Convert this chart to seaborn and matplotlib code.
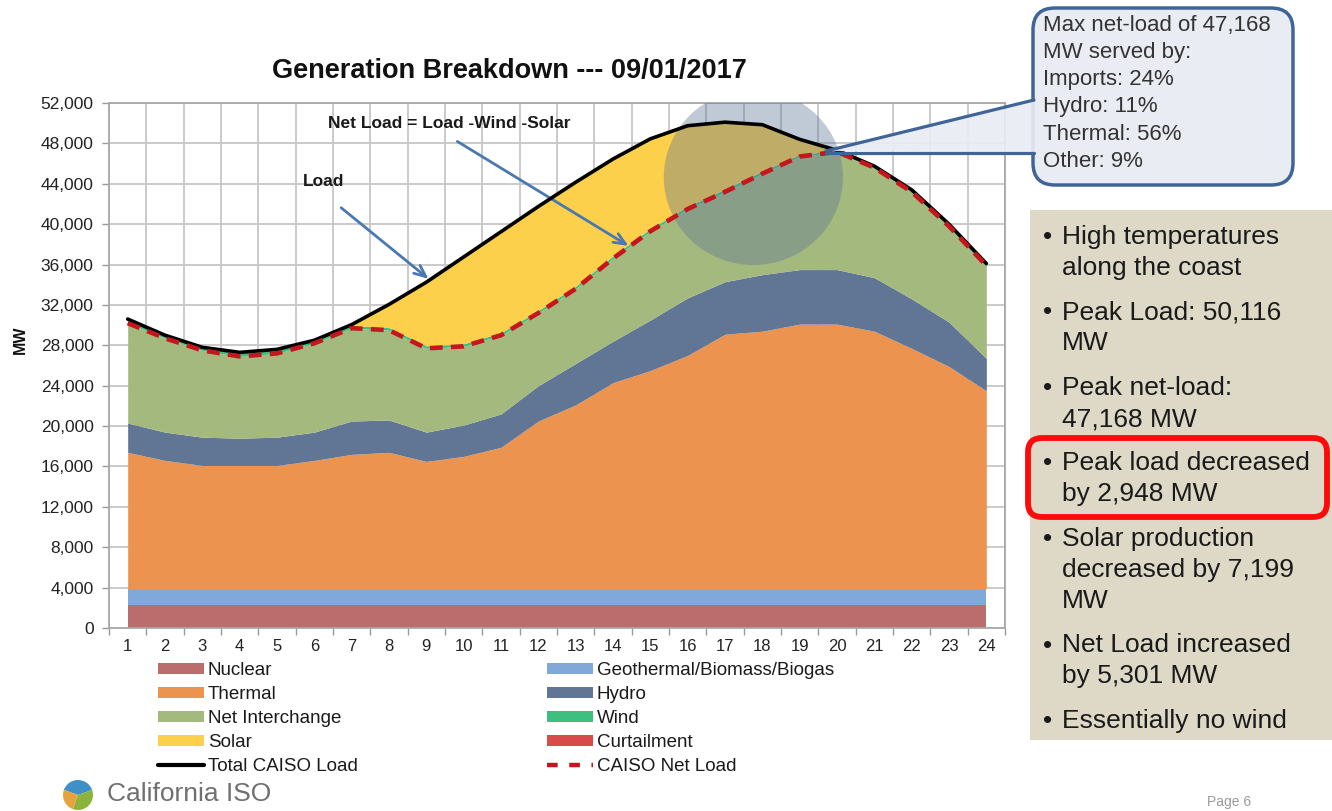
import pandas as pd
import seaborn as sns
import matplotlib.pyplot as plt
from matplotlib.lines import Line2D
from matplotlib.patches import Patch, Ellipse, FancyBboxPatch, Polygon, Rectangle, Wedge
from matplotlib.ticker import FuncFormatter, MultipleLocator
from matplotlib.transforms import IdentityTransform

# hourly values (MW) for 09/01/2017
hours = list(range(1, 25))
nuclear = [2250, 2250, 2250, 2250, 2250, 2250, 2250, 2250, 2250, 2250, 2250, 2250,
           2250, 2250, 2250, 2250, 2250, 2250, 2250, 2250, 2250, 2250, 2250, 2250]
geothermal = [1650, 1650, 1650, 1650, 1650, 1650, 1650, 1650, 1650, 1650, 1650, 1650,
              1650, 1650, 1650, 1650, 1650, 1650, 1650, 1650, 1650, 1650, 1650, 1650]
thermal = [13500, 12700, 12200, 12200, 12200, 12700, 13300, 13500, 12600, 13100, 14000, 16600,
           18200, 20400, 21600, 23100, 25200, 25500, 26200, 26200, 25500, 23800, 22000, 19600]
hydro = [2900, 2800, 2800, 2700, 2800, 2800, 3300, 3200, 2900, 3100, 3300, 3500,
         4100, 4100, 5000, 5700, 5200, 5600, 5400, 5400, 5300, 4900, 4400, 3200]
net_interchange = [9900, 9300, 8600, 8100, 8300, 8800, 9200, 8900, 8300, 7800, 7800, 7200,
                   7400, 8200, 8800, 8800, 8900, 10000, 11200, 11668, 10900, 10600, 9500, 9200]
wind = [400, 300, 300, 400, 400, 300, 250, 250, 250, 250, 250, 250,
        250, 250, 250, 250, 250, 250, 200, 150, 150, 200, 200, 200]
solar = [0, 0, 0, 0, 0, 0, 100, 2300, 6300, 8600, 10000, 10300,
         10300, 9600, 8900, 8000, 6650, 4600, 1500, 0, 0, 0, 0, 0]
curtailment = [0, 0, 0, 0, 0, 0, 0, 0, 0, 0, 0, 0,
               0, 0, 0, 0, 0, 0, 0, 0, 0, 0, 0, 0]
total_load = [30600, 29000, 27800, 27300, 27600, 28500, 30050, 32050, 34250, 36750, 39250, 41750,
              44150, 46450, 48450, 49750, 50100, 49850, 48400, 47318, 45750, 43400, 40000, 36100]
net_load = [30200, 28700, 27500, 26900, 27200, 28200, 29700, 29500, 27700, 27900, 29000, 31200,
            33600, 36600, 39300, 41500, 43200, 45000, 46700, 47168, 45600, 43200, 39800, 35900]

series_names = ["Nuclear", "Geothermal/Biomass/Biogas", "Thermal", "Hydro",
                "Net Interchange", "Wind", "Solar", "Curtailment"]
series_colors = ["#bb6d6d", "#80a8d8", "#ec944f", "#617594",
                 "#a4b97d", "#3dbf80", "#fdd04b", "#d94a4a"]

callout_lines = ["Max net-load of 47,168", "MW served by:", "Imports: 24%",
                 "Hydro: 11%", "Thermal: 56%", "Other: 9%"]
bullets = [["High temperatures", "along the coast"],
           ["Peak Load: 50,116", "MW"],
           ["Peak net-load:", "47,168 MW"],
           ["Peak load decreased", "by 2,948 MW"],
           ["Solar production", "decreased by 7,199", "MW"],
           ["Net Load increased", "by 5,301 MW"],
           ["Essentially no wind"]]

W, H = 1332, 811

sns.set_theme(style="white")
plt.rcParams['font.family'] = ['Liberation Sans', 'DejaVu Sans']


def fx(x):
    return x / W


def fy(y):
    return 1 - y / H


fig = plt.figure(figsize=(W / 100, H / 100), dpi=100)
fig.patch.set_facecolor("white")
ax = fig.add_axes([fx(109), fy(628), (1005 - 109) / W, (628 - 103) / H])

# stacked generation areas
ax.stackplot(hours, nuclear, geothermal, thermal, hydro, net_interchange, wind, solar, curtailment,
             colors=series_colors, linewidth=0, zorder=2)

# highlight circle around the evening peak
ax.add_patch(Ellipse((17.76, 44650), 4.8, 17400, facecolor="#5b7497", alpha=0.38,
                     edgecolor="none", zorder=3))

df = pd.DataFrame({"hour": hours, "load": total_load, "net": net_load})
sns.lineplot(data=df, x="hour", y="load", color="black", linewidth=2.6, ax=ax, zorder=4)
sns.lineplot(data=df, x="hour", y="net", color="#c4161c", linewidth=3.3,
             linestyle=(0, (2.8, 1.8)), ax=ax, zorder=5)

ax.set_xlim(0.5, 24.5)
ax.set_ylim(0, 52000)
ax.set_xticks(hours)
ax.xaxis.set_minor_locator(MultipleLocator(1, offset=0.5))
ax.yaxis.set_major_locator(MultipleLocator(4000))
ax.yaxis.set_major_formatter(FuncFormatter(lambda v, p: f"{int(v):,}"))
ax.grid(True, which="major", axis="y", color="#c6c6c6", linewidth=1.3, zorder=0)
ax.grid(True, which="minor", axis="x", color="#c6c6c6", linewidth=1.3, zorder=0)
ax.set_axisbelow(True)
ax.tick_params(axis="x", which="major", length=0, pad=8, labelsize=12, labelcolor="#222222")
ax.tick_params(axis="x", which="minor", length=5, width=1, color="#9a9a9a", bottom=True)
ax.tick_params(axis="y", length=5, width=1, color="#9a9a9a", left=True, pad=6,
               labelsize=12.5, labelcolor="#222222")
for side, sp in ax.spines.items():
    sp.set_color("#a8a8a8")
    sp.set_linewidth(1.3)
ax.set_xlabel("")
ax.set_ylabel("MW", fontsize=11.5, fontweight="bold", color="#111111")
ax.yaxis.set_label_coords(-0.09, (628 - 340) / (628 - 103))

# annotations inside the chart
fig.text(fx(303), fy(182), "Load", fontsize=12.5, fontweight="bold", va="center", color="#1a1a1a")
ax.annotate("", xy=(9.12, 34400), xycoords="data", xytext=(339, H - 206), textcoords="figure pixels",
            arrowprops=dict(arrowstyle="->,head_length=0.7,head_width=0.3", color="#4a78b0", lw=2))
fig.text(fx(328), fy(124), "Net Load = Load -Wind -Solar", fontsize=12.5, fontweight="bold",
         va="center", color="#1a1a1a")
ax.annotate("", xy=(14.48, 37700), xycoords="data", xytext=(455, H - 140), textcoords="figure pixels",
            arrowprops=dict(arrowstyle="->,head_length=0.7,head_width=0.3", color="#4a78b0", lw=2))

fig.text(fx(509), fy(71), "Generation Breakdown --- 09/01/2017", fontsize=19.5, fontweight="bold",
         ha="center", va="center", color="#111111")

# callout box with pointer
pix = IdentityTransform()
box = FancyBboxPatch((1033, H - 185), 260, 177, boxstyle="round,pad=0,rounding_size=22",
                     facecolor="#e9ecf2", edgecolor="#3f6598", linewidth=2.5, transform=pix,
                     zorder=10)
fig.patches.append(box)
tip = (826, H - 151)
fig.patches.append(Polygon([tip, (1036, H - 101), (1036, H - 153)], closed=True,
                           facecolor="#e9ecf2", edgecolor="none", alpha=0.92, transform=pix,
                           zorder=11))
fig.lines.append(Line2D([tip[0], 1034], [tip[1], H - 100], color="#3f6598", lw=2.3,
                        transform=pix, zorder=12))
fig.lines.append(Line2D([tip[0], 1034], [tip[1] - 2, H - 153], color="#3f6598", lw=2.3,
                        transform=pix, zorder=12))
for i, line in enumerate(callout_lines):
    fig.text(fx(1043), fy(25 + 27.3 * i), line, fontsize=16, va="center", color="#333333",
             zorder=13)

# right-hand text panel
fig.patches.append(Rectangle((1030, H - 740), 310, 530, facecolor="#ddd9c6", edgecolor="none",
                             transform=pix, zorder=1))
y = 237
for item in bullets:
    fig.text(fx(1043), fy(y), "\u2022", fontsize=19, va="center", color="#1a1a1a", zorder=3)
    for line in item:
        fig.text(fx(1062), fy(y), line, fontsize=19, va="center", color="#1a1a1a", zorder=3)
        y += 31
    y += 13.5
fig.patches.append(FancyBboxPatch((1028, H - 517), 299, 79, boxstyle="round,pad=0,rounding_size=14",
                                  facecolor="none", edgecolor="#ff0a0a", linewidth=4.2,
                                  transform=pix, zorder=4))

# legend in two columns below the chart
handles = [Patch(facecolor=c, edgecolor="none") for c in series_colors]
load_handle = Line2D([], [], color="black", lw=3)
net_handle = Line2D([], [], color="#c4161c", lw=3.2, dashes=(2.4, 2.6))
left = [handles[0], handles[2], handles[4], handles[6], load_handle]
left_labels = ["Nuclear", "Thermal", "Net Interchange", "Solar", "Total CAISO Load"]
right = [handles[1], handles[3], handles[5], handles[7], net_handle]
right_labels = ["Geothermal/Biomass/Biogas", "Hydro", "Wind", "Curtailment", "CAISO Net Load"]
for hs, ls, x0 in [(left, left_labels, 158), (right, right_labels, 547)]:
    fig.legend(hs, ls, loc="upper left", bbox_to_anchor=(fx(x0), fy(662)), frameon=False,
               borderpad=0, borderaxespad=0, fontsize=13.5, handlelength=2.45, handleheight=0.55,
               handletextpad=0.2, labelspacing=0.37, labelcolor="#1a1a1a")

# footer: logo and page number
for theta1, theta2, col in [(20, 160, "#3f8fc9"), (160, 250, "#e6a23c"), (250, 380, "#8bb43c")]:
    fig.patches.append(Wedge((78, H - 795), 15, theta1, theta2, facecolor=col, edgecolor="none",
                             transform=pix, zorder=3))
fig.text(fx(107), fy(794), "California ISO", fontsize=19, va="center", color="#707070")
fig.text(fx(1207), fy(802), "Page 6", fontsize=10, va="center", color="#9a9a9a")

fig.savefig("out.png", dpi=100)
